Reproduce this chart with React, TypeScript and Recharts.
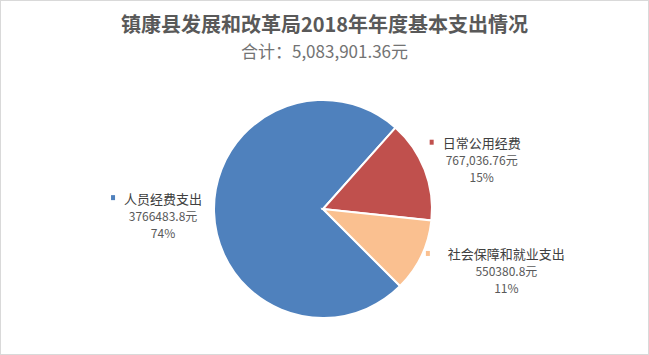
import React from 'react';
import { PieChart, Pie, Cell } from 'recharts';

// 镇康县发展和改革局 2018 年度基本支出
const categories = ['人员经费支出', '日常公用经费', '社会保障和就业支出'];
const values = [3766483.8, 767036.76, 550380.8];
const valueLabels = ['3766483.8元', '767,036.76元', '550380.8元'];
const colors = ['#4F81BD', '#C0504D', '#FAC090'];

const title = '镇康县发展和改革局2018年年度基本支出情况';
const subtitle = '合计：5,083,901.36元';

// label block offsets from the slice's outer edge point (dx, dy of the middle line)
const labelLayout = [
  { dx: -51, dy: 3, markerGap: 9 },
  { dx: 57, dy: -10, markerGap: 9 },
  { dx: 85, dy: 15, markerGap: 18 },
];
const LINE_GAP = 17;

const FONT = '"Noto Sans CJK SC", "Noto Sans", sans-serif';
const RAD = Math.PI / 180;

const data = categories.map((name, i) => ({ name, value: values[i] }));

const renderLabel = (props: any) => {
  const { cx, cy, midAngle, outerRadius, percent, index } = props;
  const ax = cx + outerRadius * Math.cos(-midAngle * RAD);
  const ay = cy + outerRadius * Math.sin(-midAngle * RAD);
  const layout = labelLayout[index];
  const x = ax + layout.dx;
  const y = ay + layout.dy;
  const name = categories[index];
  const nameWidth = name.length * 13;
  return (
    <g key={`label-${index}`}>
      <rect
        x={x - nameWidth / 2 - layout.markerGap - 4}
        y={y - LINE_GAP - 3}
        width={4}
        height={5}
        fill={colors[index]}
      />
      <text x={x} y={y - LINE_GAP} textAnchor="middle" dominantBaseline="central" fill="#404040" fontSize={13} fontFamily={FONT}>
        {name}
      </text>
      <text x={x} y={y} textAnchor="middle" dominantBaseline="central" fill="#595959" fontSize={12} fontFamily={FONT}>
        {valueLabels[index]}
      </text>
      <text x={x} y={y + LINE_GAP} textAnchor="middle" dominantBaseline="central" fill="#595959" fontSize={12} fontFamily={FONT}>
        {`${Math.round(percent * 100)}%`}
      </text>
    </g>
  );
};

export default function App() {
  return (
    <div
      style={{
        position: 'absolute',
        left: 0,
        top: 0,
        width: 649,
        height: 355,
        boxSizing: 'border-box',
        border: '1px solid #d9d9d9',
        background: '#fff',
        fontFamily: FONT,
      }}
    >
      <div
        style={{
          position: 'absolute',
          top: 10,
          left: 0,
          width: '100%',
          textAlign: 'center',
          fontSize: 20,
          fontWeight: 700,
          color: '#595959',
          lineHeight: '26px',
        }}
      >
        {title}
      </div>
      <div
        style={{
          position: 'absolute',
          top: 38,
          left: 0,
          width: '100%',
          textAlign: 'center',
          fontSize: 17,
          color: '#737373',
          lineHeight: '24px',
        }}
      >
        {subtitle}
      </div>
      <div style={{ position: 'absolute', left: -1, top: -1 }}>
        <PieChart width={649} height={355} margin={{ top: 0, right: 0, bottom: 0, left: 0 }}>
          <Pie
            data={data}
            dataKey="value"
            nameKey="name"
            cx={323}
            cy={209}
            outerRadius={109}
            startAngle={315}
            endAngle={-45}
            stroke="#ffffff"
            strokeWidth={2}
            labelLine={false}
            label={renderLabel}
            isAnimationActive={false}
          >
            {data.map((_, i) => (
              <Cell key={i} fill={colors[i]} />
            ))}
          </Pie>
        </PieChart>
      </div>
    </div>
  );
}
